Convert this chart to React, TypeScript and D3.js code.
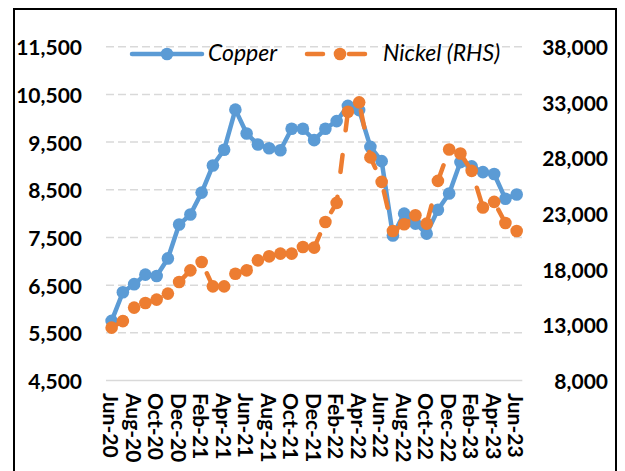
import React from "react";
import * as d3 from "d3";

const months = [
  "Jun-20","Jul-20","Aug-20","Sep-20","Oct-20","Nov-20","Dec-20","Jan-21","Feb-21","Mar-21",
  "Apr-21","May-21","Jun-21","Jul-21","Aug-21","Sep-21","Oct-21","Nov-21","Dec-21","Jan-22",
  "Feb-22","Mar-22","Apr-22","May-22","Jun-22","Jul-22","Aug-22","Sep-22","Oct-22","Nov-22",
  "Dec-22","Jan-23","Feb-23","Mar-23","Apr-23","May-23","Jun-23",
];

const copper = [
  5750, 6350, 6520, 6720, 6690, 7060, 7770, 7980, 8440, 9010,
  9340, 10180, 9680, 9450, 9370, 9330, 9780, 9780, 9540, 9780,
  9940, 10260, 10170, 9400, 9100, 7540, 8000, 7790, 7580, 8080,
  8420, 9080, 8990, 8870, 8830, 8310, 8400,
];

const nickel = [
  12750, 13340, 14550, 14960, 15270, 15810, 16850, 17900, 18650, 16460,
  16460, 17600, 17900, 18800, 19160, 19400, 19400, 20000, 19940, 22250,
  23960, 32150, 33000, 28050, 25850, 21440, 22040, 22850, 22100, 25940,
  28760, 28400, 26840, 23550, 24050, 22160, 21440,
];

const leftTicks = [4500, 5500, 6500, 7500, 8500, 9500, 10500, 11500];
const rightTicks = [8000, 13000, 18000, 23000, 28000, 33000, 38000];
const xTickLabels = months.filter((_, i) => i % 2 === 0);

const seriesNames = ["Copper", "Nickel (RHS)"];

const BLUE = "#5B9BD5";
const ORANGE = "#ED7D31";
const FONT = "Lato, 'Open Sans', sans-serif";

export default function App() {
  const W = 625, H = 471;
  const plotL = 106, plotR = 522.3, plotT = 46.7, plotB = 380.5;

  const x = d3.scaleBand<string>().domain(months).range([plotL, plotR]).padding(0);
  const cx = (m: string) => (x(m) as number) + x.bandwidth() / 2;
  const yL = d3.scaleLinear().domain([4500, 11500]).range([plotB, plotT]);
  const yR = d3.scaleLinear().domain([8000, 38000]).range([plotB, plotT]);

  const lineL = d3.line<number>().x((_, i) => cx(months[i])).y((d) => yL(d));
  const lineR = d3.line<number>().x((_, i) => cx(months[i])).y((d) => yR(d));
  const fmt = d3.format(",");
  const r = 6.3;
  const fs = 21;

  return (
    <svg width={W} height={H} style={{ position: "absolute", left: 0, top: 0, background: "#fff" }}>
      <rect x={0} y={0} width={W} height={H} fill="#fff" />
      <rect x={14} y={9} width={602} height={470} fill="none" stroke="#000" strokeWidth={2} />
      {leftTicks.map((t) => (
        <line
          key={t}
          x1={plotL}
          x2={plotR}
          y1={yL(t)}
          y2={yL(t)}
          stroke="#D9D9D9"
          strokeWidth={1.5}
          strokeDasharray={t === 4500 ? undefined : "8 4"}
        />
      ))}
      {leftTicks.map((t) => (
        <text key={t} x={82} y={yL(t)} textAnchor="end" dominantBaseline="central"
          fontFamily={FONT} fontWeight={700} fontSize={fs} fill="#000">
          {fmt(t)}
        </text>
      ))}
      {rightTicks.map((t) => (
        <text key={t} x={608} y={yR(t)} textAnchor="end" dominantBaseline="central"
          fontFamily={FONT} fontWeight={700} fontSize={fs} fill="#000">
          {fmt(t)}
        </text>
      ))}
      {xTickLabels.map((m) => (
        <text key={m} transform={`translate(${cx(m)},393) rotate(90)`} textAnchor="start"
          dominantBaseline="central" fontFamily={FONT} fontWeight={700} fontSize={fs} fill="#000">
          {m}
        </text>
      ))}
      <path d={lineL(copper) || ""} fill="none" stroke={BLUE} strokeWidth={4.5} strokeLinejoin="round" />
      {copper.map((v, i) => (
        <circle key={i} cx={cx(months[i])} cy={yL(v)} r={r} fill={BLUE} />
      ))}
      <path d={lineR(nickel) || ""} fill="none" stroke={ORANGE} strokeWidth={4.5}
        strokeDasharray="17 25" strokeLinecap="round" strokeLinejoin="round" />
      {nickel.map((v, i) => (
        <circle key={i} cx={cx(months[i])} cy={yR(v)} r={r} fill={ORANGE} />
      ))}
      <line x1={132} x2={202} y1={54} y2={54} stroke={BLUE} strokeWidth={4.5} strokeLinecap="round" />
      <circle cx={167} cy={54} r={r} fill={BLUE} />
      <text x={208} y={61} fontFamily={FONT} fontStyle="italic" fontSize={23} fill="#000">{seriesNames[0]}</text>
      <line x1={307} x2={369} y1={54} y2={54} stroke={ORANGE} strokeWidth={4.5} strokeLinecap="round"
        strokeDasharray="16 26" />
      <circle cx={340} cy={54} r={r} fill={ORANGE} />
      <text x={383} y={61} fontFamily={FONT} fontStyle="italic" fontSize={23} fill="#000">{seriesNames[1]}</text>
    </svg>
  );
}
